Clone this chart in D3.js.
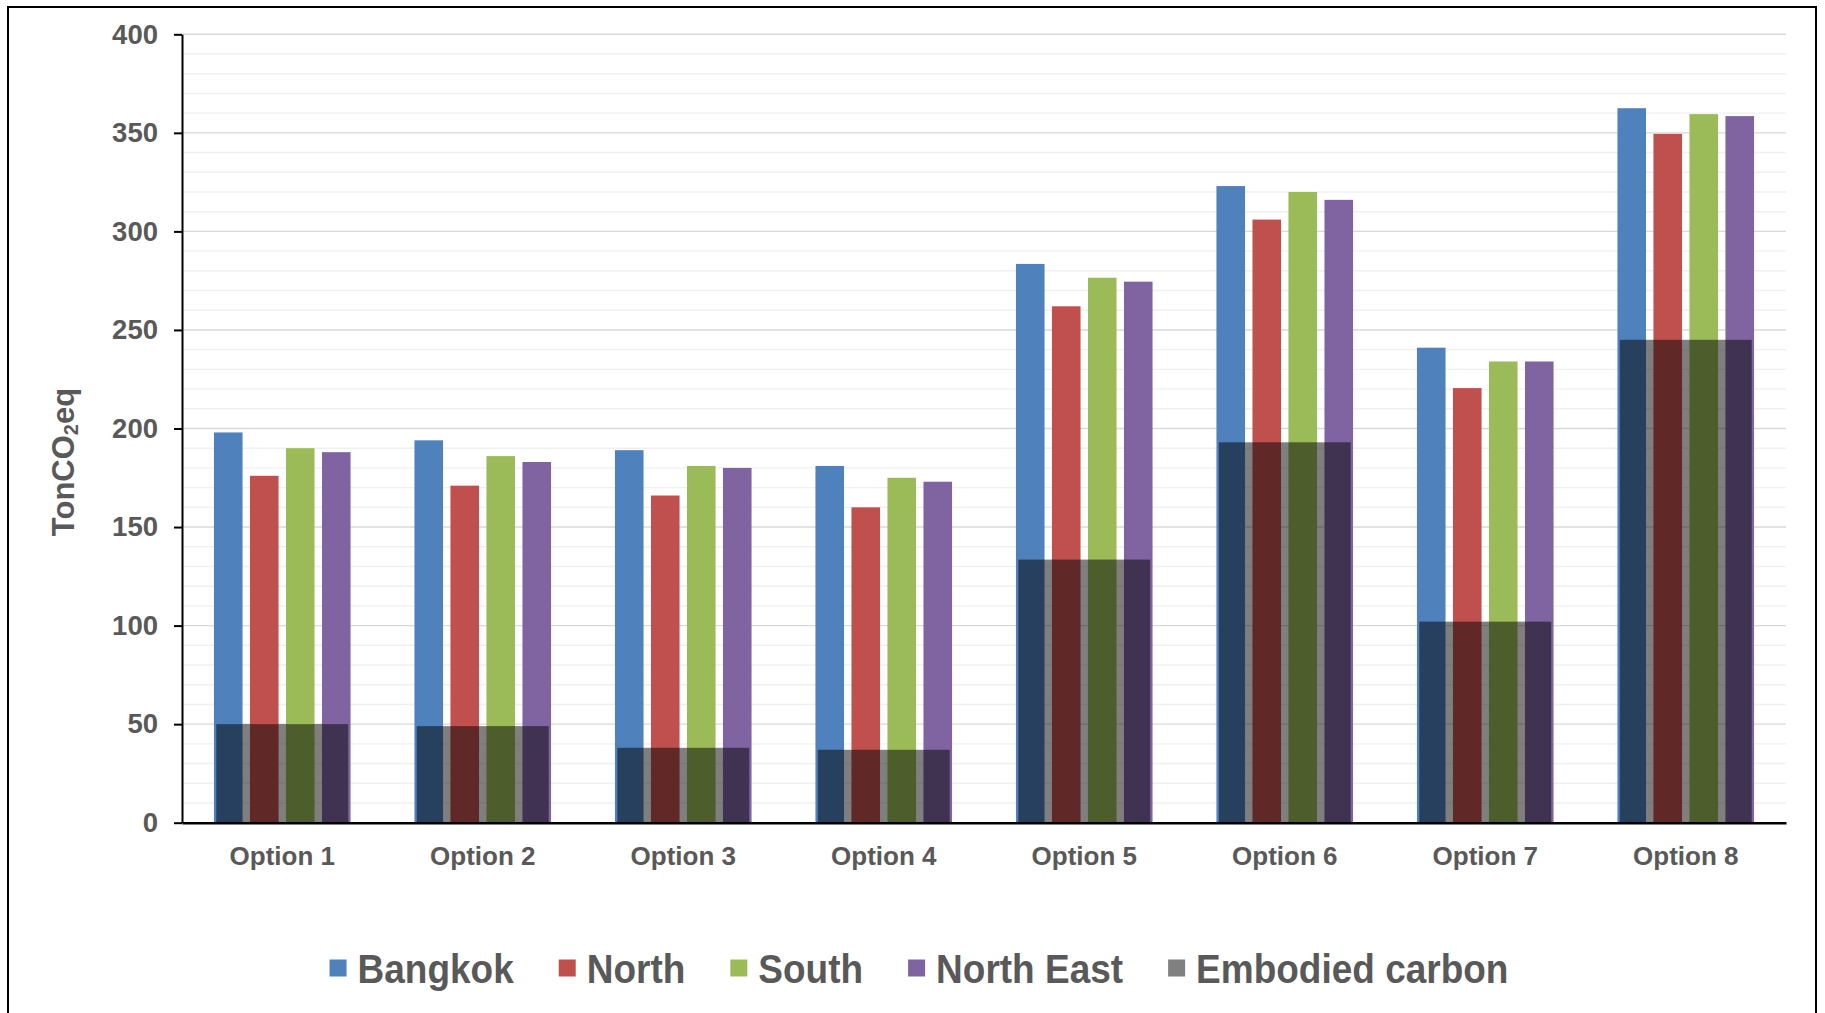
<!DOCTYPE html>
<html>
<head>
<meta charset="utf-8">
<script src="https://cdn.jsdelivr.net/npm/d3@7"></script>
<style>
  html, body { margin: 0; padding: 0; background: #fff; }
  svg { display: block; }
  text { font-family: "Liberation Sans", Arial, sans-serif; font-weight: bold; fill: #595959; }
</style>
</head>
<body>
<svg id="chart" width="1825" height="1013"></svg>
<script>
"use strict";

// data
const categories = ['Option 1', 'Option 2', 'Option 3', 'Option 4', 'Option 5', 'Option 6', 'Option 7', 'Option 8'];
const seriesNames = ['Bangkok', 'North', 'South', 'North East'];
const bangkok   = [198, 194, 189, 181, 283.5, 323, 241, 362.5];
const north     = [176, 171, 166, 160, 262, 306, 220.5, 349.5];
const south     = [190, 186, 181, 175, 276.5, 320, 234, 359.5];
const northEast = [188, 183, 180, 173, 274.5, 316, 234, 358.5];
const embodied  = [50, 49, 38, 37, 133.5, 193, 102, 245];
const yTicks    = [0, 50, 100, 150, 200, 250, 300, 350, 400];

const seriesValues = [bangkok, north, south, northEast];
const colors = ['#4F81BD', '#C0504D', '#9BBB59', '#8064A2'];

const svg = d3.select('#chart');

// outer frame (bottom edge runs off the picture)
svg.append('rect')
  .attr('x', 8).attr('y', 7).attr('width', 1808).attr('height', 1030)
  .attr('fill', 'none').attr('stroke', '#000').attr('stroke-width', 2);

const m = {left: 182, top: 34.3};
const w = 1604, h = 788.4;
const g = svg.append('g').attr('transform', `translate(${m.left},${m.top})`);

let y = d3.scaleLinear().domain([0, 400]).range([h, 0]);
let x0 = d3.scaleBand().domain(categories).range([0, w]);
let groupW = 136.6;
let x1 = d3.scaleBand().domain(seriesNames).range([0, groupW]).paddingInner(0.206);

// minor + major gridlines
g.append('g').selectAll('line')
  .data(d3.range(10, 400, 10).filter(v => v % 50 != 0))
  .join('line')
  .attr('x1', 0).attr('x2', w)
  .attr('y1', d => y(d)).attr('y2', d => y(d))
  .attr('stroke', '#f0f0f0').attr('stroke-width', 1.4);

g.append('g').selectAll('line')
  .data(yTicks.filter(v => v > 0))
  .join('line')
  .attr('x1', 0).attr('x2', w)
  .attr('y1', d => y(d)).attr('y2', d => y(d))
  .attr('stroke', '#d9d9d9').attr('stroke-width', 1.4);

// series bars
let rows = [];
categories.forEach((c, i) => {
  seriesNames.forEach((s, j) => rows.push({cat: c, s: s, v: seriesValues[j][i], color: colors[j]}));
});

g.append('g').selectAll('rect')
  .data(rows)
  .join('rect')
  .attr('x', d => x0(d.cat) + (x0.bandwidth() - groupW) / 2 + x1(d.s))
  .attr('width', x1.bandwidth())
  .attr('y', d => y(d.v))
  .attr('height', d => y(0) - y(d.v))
  .attr('fill', d => d.color);

// embodied carbon, one wide half transparent bar per option
let embW = x0.bandwidth() * 0.658;
g.append('g').selectAll('rect')
  .data(categories.map((c, i) => ({cat: c, v: embodied[i]})))
  .join('rect')
  .attr('x', d => x0(d.cat) + (x0.bandwidth() - embW) / 2)
  .attr('width', embW)
  .attr('y', d => y(d.v))
  .attr('height', d => y(0) - y(d.v))
  .attr('fill', '#000').attr('fill-opacity', 0.5);

// axes
let yAxis = d3.axisLeft(y).tickValues(yTicks).tickSize(8).tickPadding(16).tickSizeOuter(0);
let ya = g.append('g').call(yAxis);
ya.selectAll('line, path').attr('stroke', '#000').attr('stroke-width', 2);
ya.selectAll('text').attr('font-size', 27.5).style('fill', '#595959');

let xAxis = d3.axisBottom(x0).tickSize(0).tickPadding(24).tickSizeOuter(0);
let xa = g.append('g').attr('transform', `translate(0,${h})`).call(xAxis);
xa.select('.domain').attr('stroke', '#000').attr('stroke-width', 2.5);
xa.selectAll('text').attr('font-size', 26).style('fill', '#595959');
ya.attr('font-family', null); xa.attr('font-family', null);

// y title with subscript
let yt = svg.append('text')
  .attr('transform', 'translate(63,462) rotate(-90)')
  .attr('text-anchor', 'middle')
  .attr('dy', '0.35em')
  .attr('font-size', 31);
yt.append('tspan').text('TonCO');
yt.append('tspan').text('2').attr('font-size', 20).attr('baseline-shift', '-22%');
yt.append('tspan').text('eq');

// legend
const legendNames = seriesNames.concat(['Embodied carbon']);
const legendColors = colors.concat(['#808080']);
let lg = svg.append('g');
let cx = 0;
legendNames.forEach((name, i) => {
  let item = lg.append('g').attr('transform', `translate(${cx},0)`);
  item.append('rect').attr('x', 0).attr('y', -8.5).attr('width', 17).attr('height', 17).attr('fill', legendColors[i]);
  let t = item.append('text')
    .attr('transform', 'translate(28,0) scale(1,1.12)')
    .attr('dy', '0.36em')
    .attr('font-size', 37)
    .text(name);
  cx += 28 + t.node().getComputedTextLength() + 45;
});
let lw = cx - 45;
lg.attr('transform', `translate(${919 - lw / 2},968)`);
</script>
</body>
</html>
